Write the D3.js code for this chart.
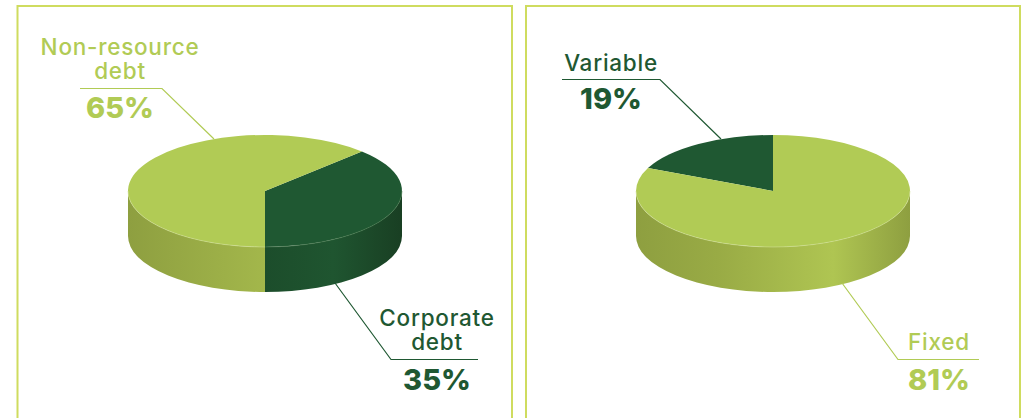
<!DOCTYPE html>
<html>
<head>
<meta charset="utf-8">
<script src="https://cdn.jsdelivr.net/npm/d3@7"></script>
<style>
  body { margin: 0; background: #fff; }
  text { font-family: Inter, "Open Sans", sans-serif; text-anchor: middle; }
  .name { font-size: 22.5px; font-weight: 500; letter-spacing: 0.75px; }
  .pct { font-size: 29px; font-weight: 800; }
</style>
</head>
<body>
<script>
// printed labels
const debtCategories = ["Corporate debt", "Non-resource debt"];
const debtLabels = ["35%", "65%"];
const rateCategories = ["Variable", "Fixed"];
const rateLabels = ["19%", "81%"];

// slice shares as measured on the ellipses (the drawing does not quite follow the printed labels)
const debtShares = [37.5, 62.5];
const rateShares = [18.3, 81.7];

const w = 1026, h = 418;
const dark = "#1f5832", light = "#b1cb55", frameColor = "#cfdc5f";

const rx = 137, ry = 56, depth = 45, cy = 191;
const squash = ry / rx;

const svg = d3.select("body").append("svg")
  .attr("width", w).attr("height", h)
  .style("display", "block");
const defs = svg.append("defs");

// side wall gradients, left to right across the pie
function wallGradient(id, stops) {
  const g = defs.append("linearGradient").attr("id", id)
    .attr("gradientUnits", "userSpaceOnUse")
    .attr("x1", -rx).attr("x2", rx).attr("y1", 0).attr("y2", 0);
  stops.forEach(s => g.append("stop").attr("offset", s[0]).attr("stop-color", s[1]));
}
wallGradient("wallDebtDark", [[0.5, "#1c4d2b"], [0.75, "#1f5530"], [1, "#193f23"]]);
wallGradient("wallDebtLight", [[0, "#8e9f40"], [0.5, "#a3b74b"]]);
wallGradient("wallRateDark", [[0, "#1c4d2b"], [1, "#193f23"]]);
wallGradient("wallRateLight", [[0, "#8e9f40"], [0.3, "#99ab45"], [0.72, "#afc552"], [1, "#8e9f40"]]);

// frames, open at the bottom
const frame = d3.line();
[[17.5, 512], [526, 1020]].forEach(f => {
  svg.append("path")
    .attr("d", frame([[f[0], h], [f[0], 6], [f[1], 6], [f[1], h]]))
    .attr("fill", "none").attr("stroke", frameColor).attr("stroke-width", 2);
});

// part of a slice that lies on the front half of the ellipse, as [from, to] angles
function frontPart(a0, a1) {
  let lo = Math.min(a0, a1), hi = Math.max(a0, a1);
  if (lo < 0) { lo += 2 * Math.PI; hi += 2 * Math.PI; }
  const from = Math.max(lo, Math.PI / 2), to = Math.min(hi, 3 * Math.PI / 2);
  return from < to ? [from, to] : null;
}

function drawPie(cx, shares, startAngle, gradients) {
  const pie = d3.pie().sort(null).value(d => d)
    .startAngle(startAngle).endAngle(startAngle - 2 * Math.PI);
  const slices = pie(shares);
  const colors = [dark, light];
  const rims = ["#4f7f52", "#d3e09a"];
  const arc = d3.arc().innerRadius(0).outerRadius(rx);
  const g = svg.append("g").attr("transform", `translate(${cx},${cy}) scale(1,${squash})`);
  const drop = depth / squash;

  slices.forEach((s, i) => {
    const part = frontPart(s.startAngle, s.endAngle);
    if (!part) return;
    const from = part[0] - Math.PI / 2, to = part[1] - Math.PI / 2;
    const p = d3.path();
    p.arc(0, 0, rx, from, to, false);
    p.arc(0, drop, rx, to, from, true);
    p.closePath();
    g.append("path").attr("d", p.toString()).attr("fill", `url(#${gradients[i]})`);
  });

  g.selectAll(".top").data(slices).enter().append("path")
    .attr("class", "top")
    .attr("d", arc)
    .attr("fill", (d, i) => colors[i]);

  // thin highlight where top meets wall
  slices.forEach((s, i) => {
    const part = frontPart(s.startAngle, s.endAngle);
    if (!part) return;
    const p = d3.path();
    p.arc(0, 0, rx, part[0] - Math.PI / 2, part[1] - Math.PI / 2, false);
    g.append("path").attr("d", p.toString()).attr("fill", "none")
      .attr("stroke", rims[i]).attr("stroke-width", 0.8);
  });
}

drawPie(265, debtShares, Math.PI, ["wallDebtDark", "wallDebtLight"]);
drawPie(773, rateShares, 0, ["wallRateDark", "wallRateLight"]);

// callout: leader line, name lines, bold percent
const leader = d3.line();
function callout(pts, x, nameLines, nameYs, pct, pctY, color) {
  svg.append("path").attr("d", leader(pts))
    .attr("fill", "none").attr("stroke", color).attr("stroke-width", 1.2);
  nameLines.forEach((t, i) => {
    svg.append("text").attr("class", "name").attr("x", x).attr("y", nameYs[i])
      .attr("fill", color).text(t);
  });
  svg.append("text").attr("class", "pct").attr("x", x).attr("y", pctY)
    .attr("fill", color).text(pct);
}

callout([[80, 88.5], [162, 88.5], [214, 139]], 120, ["Non-resource", "debt"], [55, 79], debtLabels[1], 118, light);
callout([[478, 359.5], [391, 359.5], [335, 283]], 437, ["Corporate", "debt"], [326, 350], debtLabels[0], 390, dark);
callout([[562, 79.5], [660, 79.5], [721, 139]], 611, [rateCategories[0]], [71], rateLabels[0], 109, dark);
callout([[979, 359.5], [898, 359.5], [842, 283]], 939, [rateCategories[1]], [350], rateLabels[1], 390, light);
</script>
</body>
</html>
